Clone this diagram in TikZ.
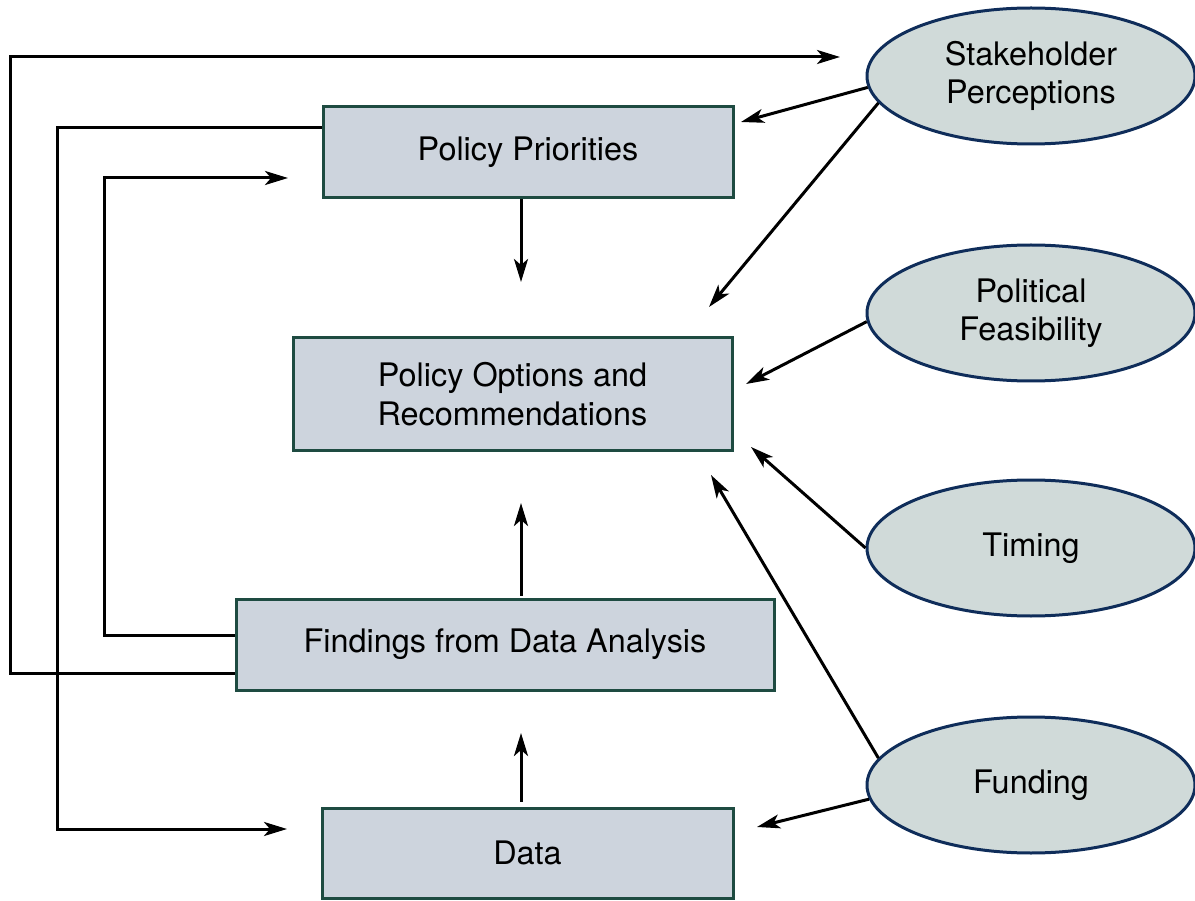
\documentclass[tikz,border=0pt]{standalone}
\usepackage{fontspec}
\setmainfont{TeX Gyre Heros}
\usetikzlibrary{arrows.meta}
\definecolor{boxfill}{RGB}{205,212,221}
\definecolor{boxdraw}{RGB}{30,75,65}
\definecolor{ellfill}{RGB}{208,218,217}
\definecolor{elldraw}{RGB}{15,45,90}
\tikzset{
  stepbox/.style={draw=boxdraw, fill=boxfill, line width=3pt, inner sep=0pt, align=center, font=\fontsize{32.4}{38.5}\selectfont},
  factor/.style={ellipse, draw=elldraw, fill=ellfill, line width=3pt, inner sep=0pt, minimum width=328pt, minimum height=136pt, align=center, font=\fontsize{32.4}{38.5}\selectfont},
  arr/.style={line width=3pt, -{Stealth[length=23pt, width=14pt, inset=6pt]}}
}
\usetikzlibrary{shapes.geometric}
\begin{document}
\begin{tikzpicture}[x=1pt,y=-1pt]
\useasboundingbox (0,0) rectangle (1195,901);
\node[stepbox, minimum width=410pt, minimum height=91pt] (PP) at (528,152.5) {Policy Priorities};
\node[stepbox, minimum width=439pt, minimum height=112pt] (PO) at (512.5,394) {Policy Options and\\Recommendations};
\node[stepbox, minimum width=538pt, minimum height=91pt] (FD) at (505,644.5) {Findings from Data Analysis};
\node[stepbox, minimum width=411pt, minimum height=90pt] (DA) at (527.5,853) {Data};
\node[factor] (SP) at (1031,76) {Stakeholder\\Perceptions};
\node[factor] (PF) at (1031,313) {Political\\Feasibility};
\node[factor] (TI) at (1031,548) {Timing};
\node[factor] (FU) at (1031,785) {Funding};
\coordinate (tSP) at (840,57);
\coordinate (tDA) at (287,829);
\coordinate (tPP) at (288,178);
\coordinate (tPOa) at (521,282);
\coordinate (tPOb) at (521,503);
\coordinate (tFD) at (521,733);
\coordinate (tPPr) at (741,122);
\coordinate (tPO1) at (709,307);
\coordinate (tPO2) at (746,384);
\coordinate (tPO3) at (751,447);
\coordinate (tPO4) at (711,475);
\coordinate (tDAr) at (757,827);
\draw[arr] ([yshift=-28.5pt]FD.west) -| (10,57) -- (tSP);
\draw[arr] ([yshift=24.5pt]PP.west) -| (57,829) -- (tDA);
\draw[arr] ([yshift=9.5pt]FD.west) -| (104,178) -- (tPP);
\draw[arr] ([xshift=-7pt]PP.south) -- (tPOa);
\draw[arr] ([xshift=16pt,yshift=2pt]FD.north) -- (tPOb);
\draw[arr] ([xshift=-6.5pt,yshift=5pt]DA.north) -- (tFD);
\draw[arr] (SP.184) -- (tPPr);
\draw[arr] (SP.190) -- (tPO1);
\draw[arr] (PF.183) -- (tPO2);
\draw[arr] (TI.west) -- (tPO3);
\draw[arr] (FU.170) -- (tPO4);
\draw[arr] (FU.185) -- (tDAr);
\end{tikzpicture}
\end{document}
